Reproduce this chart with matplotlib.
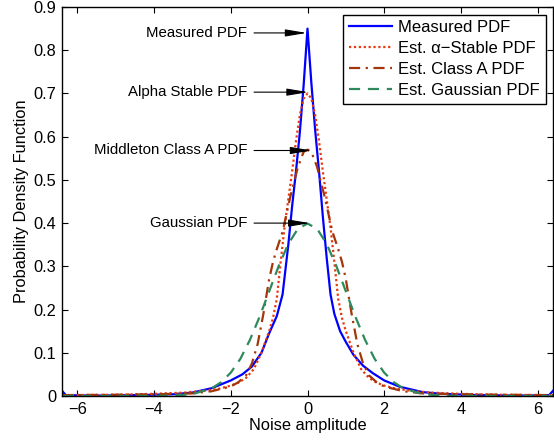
import numpy as np
import matplotlib
matplotlib.use('Agg')
import matplotlib.pyplot as plt

plt.rcParams['font.family'] = ['Liberation Sans', 'DejaVu Sans']

# measured histogram-style pdf
x_meas = [-6.4, -6.3, -5.5, -4.5, -3.5, -3.0, -2.5, -2.0, -1.7, -1.45, -1.2, -1.0, -0.8, -0.65,
          -0.5, -0.4, -0.3, -0.2, -0.1, 0.0, 0.1, 0.2, 0.3, 0.4, 0.5, 0.6, 0.7, 0.85, 1.0, 1.2,
          1.45, 1.7, 2.0, 2.4, 3.0, 3.5, 4.5, 5.5, 6.3, 6.4]
y_meas = [0.012, 0.002, 0.001, 0.002, 0.004, 0.008, 0.018, 0.036, 0.05, 0.068, 0.10, 0.145, 0.185, 0.235,
          0.35, 0.44, 0.52, 0.61, 0.72, 0.85, 0.725, 0.615, 0.52, 0.415, 0.32, 0.235, 0.19, 0.15, 0.125, 0.095,
          0.07, 0.053, 0.036, 0.0215, 0.009, 0.005, 0.002, 0.001, 0.002, 0.012]

# estimated alpha-stable pdf (one half, mirrored)
x_alpha_half = [0.0, 0.1, 0.2, 0.3, 0.4, 0.5, 0.6, 0.7, 0.8, 0.9, 1.0, 1.2, 1.4, 1.6, 1.8, 2.0,
                2.3, 2.7, 3.2, 4.0, 5.0, 6.4]
y_alpha_half = [0.70, 0.688, 0.65, 0.59, 0.52, 0.455, 0.39, 0.31, 0.225, 0.18, 0.15, 0.10, 0.062, 0.042,
                0.031, 0.024, 0.017, 0.012, 0.008, 0.005, 0.003, 0.002]

# estimated Middleton class A pdf
x_classa_half = [0.0, 0.1, 0.25, 0.45, 0.65, 0.8, 0.9, 1.0, 1.15, 1.3, 1.45, 1.6, 1.8, 2.0, 2.5,
                 3.0, 4.0, 5.0, 6.4]
y_classa_half = [0.57, 0.565, 0.53, 0.46, 0.38, 0.34, 0.31, 0.27, 0.19, 0.12, 0.075, 0.048, 0.032, 0.022, 0.011,
                 0.006, 0.004, 0.003, 0.002]

# estimated gaussian pdf
x_gauss_half = [0.0, 0.25, 0.5, 0.75, 1.0, 1.25, 1.5, 1.75, 2.0, 2.25, 2.5, 3.0, 3.5, 4.0, 5.0, 6.4]
y_gauss_half = [0.399, 0.387, 0.352, 0.301, 0.242, 0.183, 0.13, 0.086, 0.054, 0.032, 0.0175, 0.0044,
                0.0009, 0.0001, 0.0, 0.0]

labels = ['Measured PDF', 'Est. \u03b1\u2212Stable PDF', 'Est. Class A PDF', 'Est. Gaussian PDF']

notes = ['Measured PDF', 'Alpha Stable PDF', 'Middleton Class A PDF', 'Gaussian PDF']
note_y = [0.84, 0.703, 0.568, 0.40]
note_tip_x = [-0.02, 0.02, 0.11, 0.065]


def mirror(xh, yh):
    xh = np.asarray(xh)
    yh = np.asarray(yh)
    return np.concatenate([-xh[:0:-1], xh]), np.concatenate([yh[:0:-1], yh])


x_alpha, y_alpha = mirror(x_alpha_half, y_alpha_half)
x_classa, y_classa = mirror(x_classa_half, y_classa_half)
x_gauss, y_gauss = mirror(x_gauss_half, y_gauss_half)

fig = plt.figure(figsize=(5.54, 4.4), dpi=100)
ax = fig.add_axes([62 / 554, 44 / 440, 491 / 554, 389 / 440])

ax.plot(x_meas, y_meas, color='#0000ff', lw=1.6, label=labels[0])
ax.plot(x_alpha, y_alpha, color='#e8380d', lw=1.6, ls=(0, (1, 1.2)), label=labels[1])
ax.plot(x_classa, y_classa, color='#a3360a', lw=1.6, ls=(0, (5, 2.5, 1, 2.5)), label=labels[2])
ax.plot(x_gauss, y_gauss, color='#2e8a5c', lw=1.6, ls=(0, (5, 3.5)), label=labels[3])

for txt, yv, xt in zip(notes, note_y, note_tip_x):
    ax.annotate(txt, xy=(xt, yv), xytext=(-1.575, yv), ha='right', va='center', fontsize=10.8,
                arrowprops=dict(arrowstyle='-|>,head_length=1.2,head_width=0.2', color='black',
                                lw=0.8, shrinkA=3, shrinkB=0))

ax.set_xlim(-6.4, 6.4)
ax.set_ylim(0, 0.9)
ax.set_xticks(np.arange(-6, 7, 2))
ax.set_yticks(np.arange(0, 0.91, 0.1))
ax.set_yticklabels(['0', '0.1', '0.2', '0.3', '0.4', '0.5', '0.6', '0.7', '0.8', '0.9'])
ax.tick_params(direction='in', top=True, right=True, length=4, width=0.8, labelsize=11.8, pad=4)
for s in ax.spines.values():
    s.set_linewidth(1.0)
ax.set_xlabel('Noise amplitude', fontsize=11.8, labelpad=1)
ax.set_ylabel('Probability Density Function', fontsize=11.8, labelpad=3)

leg = ax.legend(loc='upper right', fontsize=12, handlelength=2.6, handletextpad=0.35,
                labelspacing=0.35, borderpad=0.35, borderaxespad=0.45, fancybox=False,
                framealpha=1, edgecolor='black')
leg.get_frame().set_linewidth(1.0)

fig.savefig('out.png', dpi=100)
